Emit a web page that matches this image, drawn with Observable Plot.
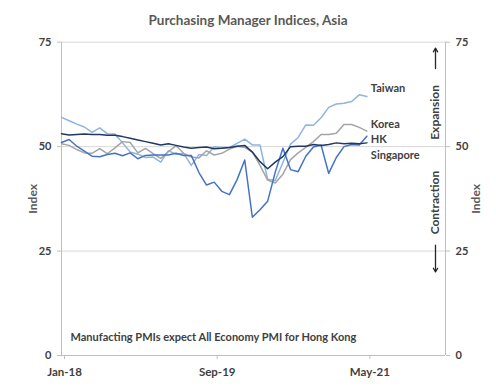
<!DOCTYPE html>
<html><head><meta charset="utf-8">
<script src="https://cdn.jsdelivr.net/npm/d3@7"></script>
<script src="https://cdn.jsdelivr.net/npm/@observablehq/plot@0.6"></script>
<style>
body{margin:0;background:#fff;width:496px;height:390px;overflow:hidden;font-family:Lato,sans-serif}
#title{height:34px;box-sizing:border-box;padding-top:12px;text-align:center;font-size:13.5px;font-weight:bold;line-height:17px;color:#595959}
</style></head><body>
<div id="title">Purchasing Manager Indices, Asia</div>
<div id="chart"></div>
<script>
// Monthly, Jan-18 .. May-21
const monthNames = ["Jan","Feb","Mar","Apr","May","Jun","Jul","Aug","Sep","Oct","Nov","Dec"];
const months = [];
for (let y = 18; y <= 21; y++) for (let k = 0; k < 12; k++) if (!(y === 21 && k > 4)) months.push(monthNames[k] + "-" + y);

const seriesNames = ["Taiwan", "Korea", "HK", "Singapore"];
const seriesColors = ["#8fb4e2", "#a5a5a5", "#4472c4", "#1f3864"];

const taiwan = [57.0,56.2,55.4,54.7,53.4,54.5,53.1,53.0,50.9,48.7,48.2,47.4,
                47.5,46.3,49.0,48.2,48.4,45.5,48.1,47.9,50.0,49.8,49.8,50.8,
                51.8,50.4,50.4,42.2,41.9,46.2,50.6,52.2,55.2,55.1,56.9,59.4,
                60.2,60.4,60.8,62.4,62.0];
const korea  = [50.7,50.3,49.3,48.5,48.4,49.5,48.3,49.7,51.2,51.0,48.5,49.6,
                48.3,47.2,48.8,50.2,48.4,47.5,47.3,49.0,48.0,48.4,49.4,50.1,
                49.8,48.7,45.5,42.0,41.3,43.4,46.9,48.5,49.8,51.2,52.9,52.9,
                53.2,55.3,55.3,54.6,53.7];
const hk     = [51.0,51.7,50.1,48.9,47.7,47.6,48.1,48.4,47.8,48.5,47.1,47.9,
                48.0,48.0,48.0,48.4,47.9,47.9,43.8,40.8,41.5,39.3,38.5,42.1,
                46.8,33.1,34.9,36.9,43.9,49.6,44.5,44.0,47.7,49.9,50.4,43.6,
                47.4,50.0,50.5,50.4,52.5];
const singapore = [53.1,52.8,52.9,53.0,52.9,52.9,52.7,52.7,52.4,52.0,51.6,51.2,
                50.8,50.4,50.7,50.3,49.9,49.6,49.8,49.9,49.5,49.6,49.8,50.1,
                50.3,48.7,46.4,44.7,46.3,47.6,50.0,50.1,50.1,50.5,50.3,50.5,
                50.9,50.7,50.8,50.7,50.9];

const yTicks = [0, 25, 50, 75];
const xTickLabels = ["Jan-18", "Sep-19", "May-21"];
const note = "Manufacting PMIs expect All Economy PMI for Hong Kong";

const seriesValues = [taiwan, korea, hk, singapore];
const rows = [];
seriesNames.forEach((name, s) => seriesValues[s].forEach((v, m) => rows.push({name, m, v})));

const xMax = 50.3;
const xTicks = xTickLabels.map(l => months.indexOf(l));
const labelOf = i => months[i];

function endLabel(name, dy) {
  return Plot.text(rows, Plot.selectLast({
    filter: d => d.name === name, x: "m", y: "v", text: "name",
    textAnchor: "start", dx: 4, dy, fill: "#404040", fontWeight: "bold", fontSize: 11
  }));
}

const chart = Plot.plot({
  width: 496, height: 356,
  marginTop: 7.7, marginBottom: 35, marginLeft: 61, marginRight: 51,
  x: {type: "linear", domain: [0, xMax], axis: null},
  y: {domain: [0, 75], axis: null},
  color: {domain: seriesNames, range: seriesColors},
  style: {fontFamily: "Lato, sans-serif", fontSize: "11px", color: "#404040", background: "#fff"},
  marks: [
    Plot.ruleY([25, 50, 75], {stroke: "#d9d9d9", strokeWidth: 1}),
    Plot.ruleY([0], {stroke: "#bfbfbf", strokeWidth: 1}),
    Plot.ruleX([0, xMax], {stroke: "#bfbfbf", strokeWidth: 1}),
    Plot.axisY({anchor: "left", ticks: yTicks, tickSize: 4, tickPadding: 6, label: null,
      stroke: "#bfbfbf", fill: "#404040", fontWeight: "bold", fontSize: 11}),
    Plot.axisY({anchor: "right", ticks: yTicks, tickSize: 4, tickPadding: 6, label: null,
      stroke: "#bfbfbf", fill: "#404040", fontWeight: "bold", fontSize: 11}),
    Plot.axisX({anchor: "bottom", ticks: xTicks, tickFormat: labelOf, tickSize: 4, tickPadding: 8,
      dx: 3, label: null, stroke: "#bfbfbf", fill: "#404040", fontWeight: "bold", fontSize: 11.5}),
    Plot.line(rows, {x: "m", y: "v", z: "name", stroke: "name", strokeWidth: 1.5}),
    endLabel("Taiwan", -8),
    endLabel("Korea", -7),
    endLabel("HK", 3),
    endLabel("Singapore", 13),
    Plot.text(["Index"], {frameAnchor: "left", textAnchor: "middle", dx: -28, rotate: -90, fill: "#595959", fontWeight: "bold", fontSize: 12}),
    Plot.text(["Index"], {frameAnchor: "right", textAnchor: "middle", dx: 31, rotate: -90, fill: "#595959", fontWeight: "bold", fontSize: 12}),
    Plot.text(["Expansion"], {frameAnchor: "right", textAnchor: "middle", y: 58.2, dx: -10, rotate: -90, fill: "#404040", fontWeight: "bold", fontSize: 12}),
    Plot.text(["Contraction"], {frameAnchor: "right", textAnchor: "middle", y: 36.6, dx: -10, rotate: -90, fill: "#404040", fontWeight: "bold", fontSize: 12}),
    Plot.arrow([0], {x1: xMax, x2: xMax, y1: 68.7, y2: 73.6, dx: -10, stroke: "#262626", strokeWidth: 1.3, headLength: 5}),
    Plot.arrow([0], {x1: xMax, x2: xMax, y1: 26.4, y2: 20.0, dx: -10, stroke: "#262626", strokeWidth: 1.3, headLength: 5}),
    Plot.text([note], {frameAnchor: "bottom-left", dx: 9, dy: -15, textAnchor: "start", fill: "#404040", fontWeight: "bold", fontSize: 11})
  ]
});
document.getElementById("chart").appendChild(chart);
</script>
</body></html>
